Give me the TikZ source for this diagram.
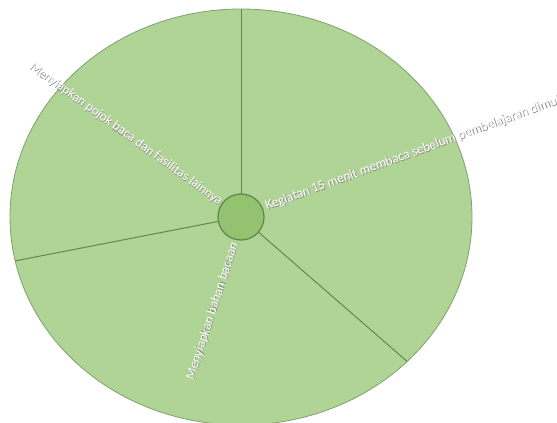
\documentclass[tikz,border=0pt]{standalone}
\usepackage{fontspec}
\setmainfont{Carlito}
\usepackage{tikz}
\usetikzlibrary{shapes.geometric, positioning, calc}

\definecolor{hijauMuda}{RGB}{176,212,150}
\definecolor{hijauPusat}{RGB}{147,194,112}
\definecolor{hijauGaris}{RGB}{96,138,72}

% teks putih dengan bayangan abu-abu
\newcommand{\bayang}[1]{\makebox[0pt][l]{\hspace{0.8pt}\raisebox{-0.8pt}{\color{black!45}#1}}{\color{white}#1}}

\begin{document}
\begin{tikzpicture}[
            x=1pt, y=1pt,
            wheel/.style={ellipse, minimum width=462pt, minimum height=416pt, inner sep=0pt, outer sep=0pt, draw=hijauGaris!80, line width=0.8pt, fill=hijauMuda},
            hub/.style={circle, minimum size=46pt, inner sep=0pt, outer sep=0pt, draw=hijauGaris, line width=1.3pt, fill=hijauPusat},
            spoke/.style={draw=hijauGaris, line width=1pt},
            lbl/.style={font=\fontsize{13.2}{15}\selectfont, inner sep=0pt}
        ]

            \useasboundingbox (0,0) rectangle (557,423);

            % Lingkaran luar dan pusat
            \node (wheel) [wheel] at (241,206) {};
            \node (hub) [hub] at (241,206) {};

            % Garis pembagi
            \draw [spoke] (hub.90) -- (wheel.90);
            \draw [spoke] (hub.191.6) -- (wheel.191.6);
            \draw [spoke] (hub.-41.1) -- (wheel.-41.1);

            % Label tiap bagian
            \node (pojok) [lbl, anchor=east, rotate=-35.8] at (221,220) {\bayang{Menyiapkan pojok baca dan fasilitas lainnya}};
            \node (kegiatan) [lbl, anchor=west, rotate=20] at (266,216) {\bayang{Kegiatan 15 menit membaca sebelum pembelajaran dimulai}};
            \node (bahan) [lbl, anchor=east, rotate=72] at (235,180) {\bayang{Menyiapkan bahan bacaan}};

        \end{tikzpicture}
\end{document}
